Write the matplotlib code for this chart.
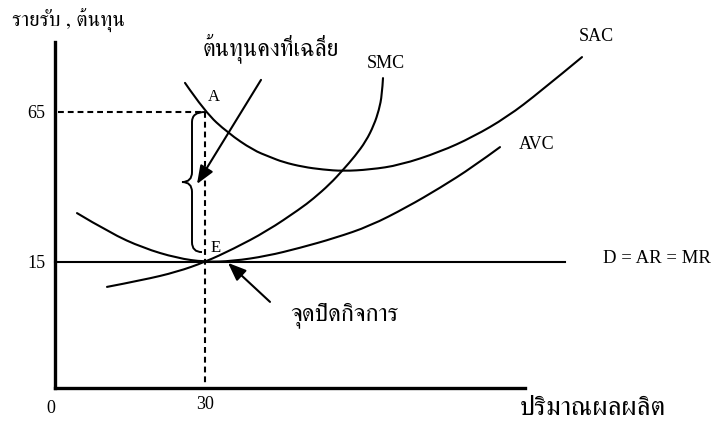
import matplotlib
matplotlib.use("Agg")
import matplotlib.pyplot as plt
from matplotlib.path import Path
from matplotlib.patches import PathPatch

# curves: quantity, cost
sac_q = [26.0, 30.0, 34.6, 39.6, 43.0, 45.6, 49.6, 53.6, 57.6, 63.0, 69.0, 77.0, 83.6, 90.4, 97.0, 105.4]
sac_c = [74.7, 65.0, 58.0, 52.3, 50.0, 48.3, 46.7, 45.8, 45.3, 45.8, 47.3, 51.7, 56.7, 63.3, 71.7, 83.3]

smc_q = [10.4, 17.6, 24.4, 30.0, 35.6, 42.4, 49.0, 51.6, 55.0, 57.6, 60.0, 62.2, 63.8, 64.8, 65.4, 65.6]
smc_c = [6.7, 9.0, 11.7, 15.0, 19.3, 25.3, 32.7, 36.0, 41.0, 45.7, 50.3, 55.3, 60.7, 65.7, 70.7, 76.3]

avc_q = [4.4, 11.0, 17.6, 24.4, 30.0, 35.6, 42.4, 49.0, 56.0, 63.0, 70.4, 77.0, 83.6, 89.0]
avc_c = [31.3, 24.7, 19.7, 16.3, 15.0, 15.3, 17.0, 19.7, 23.0, 27.0, 33.3, 39.7, 46.7, 53.3]

price = 15            # D = AR = MR
demand_q = [0, 102]
q_shut = 30           # shutdown quantity (point E)
sac_at_shut = 65      # point A

y_ticks = [15, 65]
x_ticks = [30]

latin = "Liberation Serif"
thai_fam = ["FreeSerif", "Noto Serif Thai", latin, "DejaVu Sans"]
plt.rcParams["font.family"] = [latin, "DejaVu Sans"]


def smooth_path(xs, ys):
    # quadratic bezier through midpoints, data points as control points
    verts = [(xs[0], ys[0])]
    codes = [Path.MOVETO]
    for i in range(1, len(xs) - 1):
        mx = (xs[i] + xs[i + 1]) / 2
        my = (ys[i] + ys[i + 1]) / 2
        if i == len(xs) - 2:
            mx, my = xs[-1], ys[-1]
        verts += [(xs[i], ys[i]), (mx, my)]
        codes += [Path.CURVE3, Path.CURVE3]
    return Path(verts, codes)


fig = plt.figure(figsize=(7.17, 4.21), dpi=100)
ax = fig.add_axes([55 / 717, 33 / 421, 470 / 717, 346 / 421])
ax.set_xlim(0, 94)
ax.set_ylim(-27, 88.33)

for s in ["top", "right"]:
    ax.spines[s].set_visible(False)
ax.spines["left"].set_linewidth(2.4)
ax.spines["bottom"].set_linewidth(2.4)

ax.set_yticks(y_ticks)
ax.set_yticklabels([str(v) for v in y_ticks])
ax.set_xticks(x_ticks)
ax.set_xticklabels([str(v) for v in x_ticks])
ax.tick_params(length=0, labelsize=13)
ax.tick_params(axis="y", pad=7)
ax.tick_params(axis="x", pad=6)
ax.text(-0.8, -31, "0", ha="center", va="top", fontsize=13)

# cost curves
for q, c in [(sac_q, sac_c), (smc_q, smc_c), (avc_q, avc_c)]:
    ax.add_patch(PathPatch(smooth_path(q, c), fill=False, lw=1.5,
                           ec="black", clip_on=False, capstyle="round"))

# demand line
ax.plot(demand_q, [price, price], color="black", lw=1.5, clip_on=False)

# dashed guides through A and E
ax.plot([0.6, q_shut], [sac_at_shut, sac_at_shut], color="black", lw=1.5,
        dashes=(2.8, 1.9), clip_on=False)
ax.plot([q_shut, q_shut], [sac_at_shut, -26.5], color="black", lw=1.5,
        dashes=(2.8, 1.9), clip_on=False)

# curly brace for average fixed cost
top = sac_at_shut
bot = price + 3.3
mid = (top + bot) / 2
xv = q_shut - 2.6
xt = q_shut - 4.6
r = 3.3
brace = Path(
    [(q_shut, top), (xv, top), (xv, top - r),
     (xv, mid + r), (xv, mid), (xt, mid),
     (xv, mid), (xv, mid - r),
     (xv, bot + r), (xv, bot), (q_shut - 0.6, bot)],
    [Path.MOVETO, Path.CURVE3, Path.CURVE3,
     Path.LINETO, Path.CURVE3, Path.CURVE3,
     Path.CURVE3, Path.CURVE3,
     Path.LINETO, Path.CURVE3, Path.CURVE3])
ax.add_patch(PathPatch(brace, fill=False, lw=1.4, ec="black", clip_on=False))

# arrows
arrow = dict(arrowstyle="-|>,head_length=0.55,head_width=0.22", mutation_scale=20,
             lw=1.5, color="black", shrinkA=0, shrinkB=0)
ax.annotate("", xy=(28.4, 41.0), xytext=(41.2, 75.7), arrowprops=arrow,
            annotation_clip=False)
ax.annotate("", xy=(34.6, 14.7), xytext=(43.0, 1.7), arrowprops=arrow,
            annotation_clip=False)

# labels
ax.text(-8.6, 95.3, "รายรับ , ต้นทุน", family=thai_fam, fontsize=15,
        ha="left", va="center")
ax.text(29.6, 86.3, "ต้นทุนคงที่เฉลี่ย", family=thai_fam, fontsize=17,
        ha="left", va="center")
ax.text(47.0, -2.7, "จุดปิดกิจการ", family=thai_fam, fontsize=17.5,
        ha="left", va="center")
ax.text(93.0, -33.7, "ปริมาณผลผลิต", family=thai_fam, fontsize=19.5,
        ha="left", va="center")

ax.text(31.8, 70.0, "A", fontsize=12, ha="center", va="center")
ax.text(32.2, 19.7, "E", fontsize=12, ha="center", va="center")
ax.text(66.2, 81.3, "SMC", fontsize=13, ha="center", va="center")
ax.text(108.2, 90.0, "SAC", fontsize=13, ha="center", va="center")
ax.text(96.4, 54.0, "AVC", fontsize=13, ha="center", va="center")
ax.text(109.6, 16.0, "D = AR = MR", fontsize=13.5, ha="left", va="center")

fig.savefig("out.png", dpi=100)
